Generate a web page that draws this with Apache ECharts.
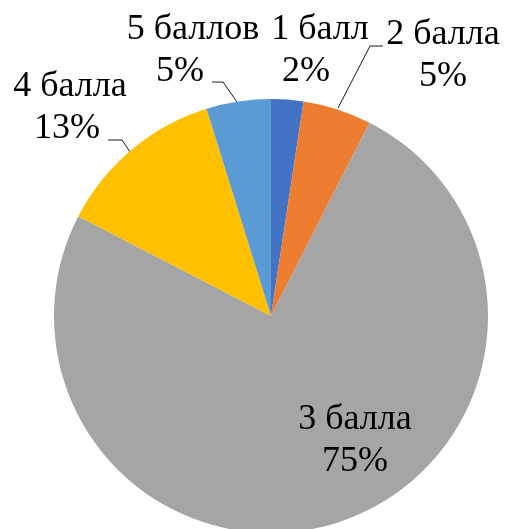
<!DOCTYPE html>
<html>
<head>
<meta charset="utf-8">
<script src="https://cdn.jsdelivr.net/npm/echarts@6/dist/echarts.min.js"></script>
<style>html,body{margin:0;padding:0;background:#fff;}#c{width:505px;height:529px;}</style>
</head>
<body>
<div id="c"></div>
<script>
const categories = ['1 балл', '2 балла', '3 балла', '4 балла', '5 баллов'];
const values = [2.4, 5.1, 75.1, 12.6, 4.8];
const colors = ['#4472C4', '#ED7D31', '#A5A5A5', '#FFC000', '#5B9BD5'];

const labelPos = [
  { x: 320, y: 51 },
  { x: 443, y: 56 },
  { x: 355, y: 441 },
  { x: 70, y: 108 },
  { x: 193, y: 51 }
];
const linePts = [
  null,
  [[338, 108], [370, 46], [383, 46]],
  null,
  [[130, 152], [122, 140], [108, 140]],
  [[237, 102], [223, 82], [212, 82]]
];
const pctShift = [28, 0, 0, 6, 26];
const showLine = [false, true, false, true, true];
const FONT = "'Liberation Serif', 'Times New Roman', 'Liberation Sans', sans-serif";

const chart = echarts.init(document.getElementById('c'), null, { renderer: 'canvas' });
const data = categories.map((name, i) => ({
  name: name,
  value: values[i],
  itemStyle: { color: colors[i] },
  label: {
    rich: {
      n: { fontFamily: FONT, fontSize: 36, lineHeight: 42, color: '#000' },
      p: { fontFamily: FONT, fontSize: 36, lineHeight: 42, color: '#000', padding: [0, pctShift[i], 0, 0] }
    }
  },
  labelLine: { show: showLine[i] }
}));

chart.setOption({
  animation: false,
  series: [{
    type: 'pie',
    center: [271, 316],
    radius: [0, 217],
    startAngle: 90,
    clockwise: true,
    data: data,
    label: {
      show: true,
      position: 'outside',
      align: 'center',
      overflow: 'none',
      fontFamily: FONT,
      fontSize: 36,
      color: '#000',
      formatter: p => '{n|' + p.name + '}\n{p|' + Math.round(p.percent) + '%}'
    },
    labelLine: {
      show: true,
      length: 10,
      length2: 10,
      lineStyle: { color: '#1a1a1a', width: 1 }
    },
    labelLayout: function (params) {
      const i = params.dataIndex;
      const pos = labelPos[i];
      const o = { x: pos.x, y: pos.y, align: 'center', verticalAlign: 'middle' };
      if (linePts[i]) o.labelLinePoints = linePts[i];
      return o;
    },
    emphasis: { disabled: true }
  }]
});
</script>
</body>
</html>
